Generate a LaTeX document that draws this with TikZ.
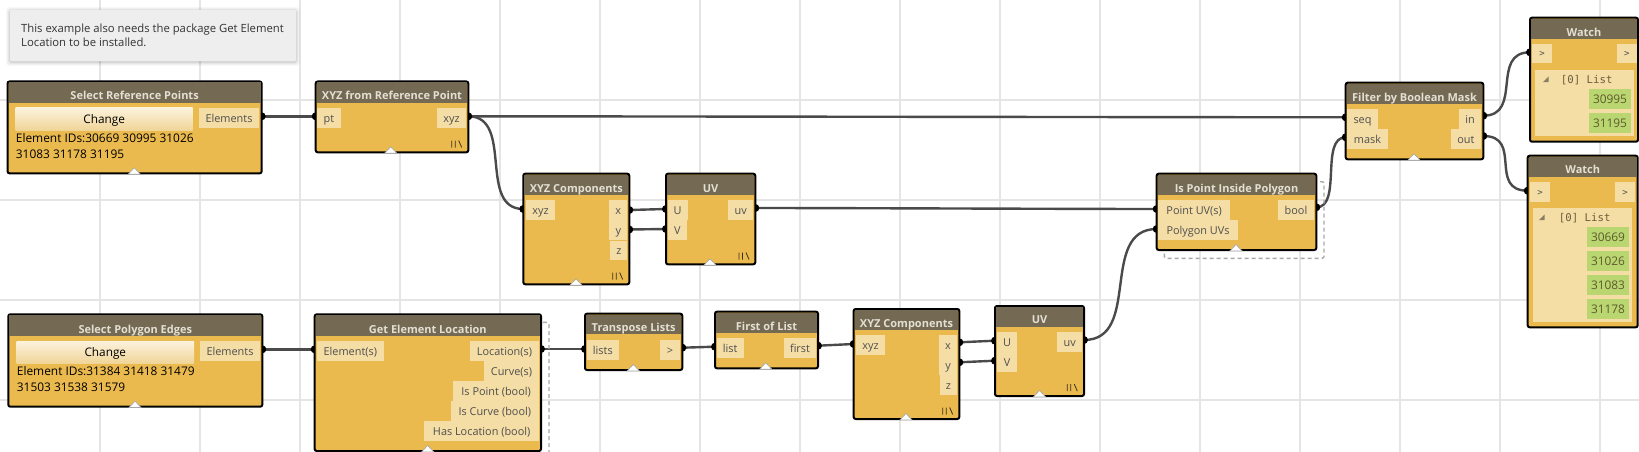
\documentclass[tikz,border=0pt]{standalone}
\usepackage{fontspec}
\setmainfont{Open Sans}
\newfontfamily\monof{DejaVu Sans Mono}
\pgfdeclarelayer{gridlayer}
\pgfdeclarelayer{wirelayer}
\pgfsetlayers{gridlayer,wirelayer,main}
\definecolor{gridc}{HTML}{E5E5E5}
\definecolor{hdrc}{HTML}{746A54}
\definecolor{bodyc}{HTML}{EBBA4F}
\definecolor{labc}{HTML}{F5DEA6}
\definecolor{lbltxt}{HTML}{4F4F4F}
\definecolor{titletxt}{HTML}{E3DFD3}
\definecolor{wirec}{HTML}{4A4A4A}
\definecolor{notec}{HTML}{EEEEEE}
\definecolor{btntop}{HTML}{FCF2DD}
\definecolor{btnbot}{HTML}{F0D598}
\definecolor{greenc}{HTML}{B9D671}
\definecolor{greentxt}{HTML}{5F5A2C}
\definecolor{listtxt}{HTML}{6B5D3D}
\definecolor{dashc}{HTML}{A8A8A8}
\definecolor{lacec}{HTML}{3A3020}
\definecolor{notetxt}{HTML}{333333}
\tikzset{
  dynbody/.style={rectangle, draw=black, line width=2pt, fill=bodyc, rounded corners=2pt, inner sep=0pt, outer sep=0pt},
  dyntitle/.style={text=titletxt, font=\fontsize{11}{13}\selectfont\bfseries, inner sep=0pt},
  lbl/.style={text=lbltxt, font=\fontsize{10.9}{13}\selectfont, inner sep=0pt, anchor=base},
  gtxt/.style={text=greentxt, font=\fontsize{11.9}{13}\selectfont, inner sep=0pt, anchor=base},
  arrtxt/.style={text=lbltxt, font=\monof\fontsize{9}{11}\selectfont, inner sep=0pt, anchor=base},
  idtxt/.style={text=black, font=\fontsize{11.9}{14}\selectfont, inner sep=0pt, anchor=base west},
  btntxt/.style={text=black, font=\fontsize{11.8}{14}\selectfont, inner sep=0pt, anchor=base},
  notetext/.style={text=notetxt, font=\fontsize{11.3}{14}\selectfont, inner sep=0pt, anchor=base west},
  listlbl/.style={text=listtxt, font=\monof\fontsize{10.7}{13}\selectfont, inner sep=0pt, anchor=base west},
  pdot/.style={circle, fill=black, inner sep=0pt, minimum size=8pt},
  wire/.style={draw=wirec, line width=2.4pt},
  gridline/.style={draw=gridc, line width=1.5pt},
  dashframe/.style={draw=dashc, line width=1.4pt, dash pattern=on 4pt off 3pt, rounded corners=2pt},
}
\newcommand{\dynbox}[7]{%
  \node[dynbody, anchor=north west, minimum width={#4-#2}, minimum height={#5-#3}] (#1) at (#2,#3) {};
  \fill[hdrc] ({#2+1},{#3+1}) rectangle ({#4-1},#6);
  \node[dyntitle, anchor=base] (#1-title) at ({(#2+#4)/2},{#6-2.8}) {#7};
}
\newcommand{\lbox}[6]{%
  \fill[labc] (#2,#3) rectangle (#4,#5);
  \node[lbl] (#1) at ({(#2+#4)/2},{(#3+#5)/2+4.3}) {#6};
}
\newcommand{\abox}[5]{%
  \fill[labc] (#2,#3) rectangle (#4,#5);
  \node[arrtxt] (#1) at ({(#2+#4)/2},{(#3+#5)/2+3.2}) {>};
}
\newcommand{\gval}[6]{%
  \fill[greenc] (#2,#3) rectangle (#4,#5);
  \node[gtxt] (#1) at ({(#2+#4)/2},{(#3+#5)/2+4.3}) {#6};
}
\newcommand{\lacing}[2]{%
  \draw[lacec, line width=0.8pt] ({#1-5},{#2-3.5}) -- ({#1-5},{#2+3.5}) ({#1-1.5},{#2-3.5}) -- ({#1-1.5},{#2+3.5}) ({#1+2},{#2-3.5}) -- ({#1+5},{#2+3.5});
}
\newcommand{\ptri}[2]{%
  \filldraw[fill=white, draw=black!35, line width=0.6pt] ({#1-6},{#2+0.8}) -- (#1,{#2-5.5}) -- ({#1+6},{#2+0.8}) -- cycle;
}
\newcommand{\listmark}[2]{%
  \fill[listtxt!80] ({#1-2.8},{#2+2.8}) -- ({#1+2.8},{#2+2.8}) -- ({#1+2.8},{#2-2.8}) -- cycle;
}
\begin{document}
\begin{tikzpicture}[x=1pt,y=-1pt]
\useasboundingbox (0,0) rectangle (1639,452);
\begin{pgfonlayer}{gridlayer}
  \fill[white] (0,0) rectangle (1639,452);
  \foreach \gx in {100,200,...,1600} \draw[gridline] (\gx,0) -- (\gx,452);
  \foreach \gy in {100,200,300,400} \draw[gridline] (0,\gy) -- (1639,\gy);
\end{pgfonlayer}

% ---- note ----
\foreach \e/\o in {4/0.025,3/0.035,2/0.045,1/0.06}
  \fill[black, opacity=\o, rounded corners=3pt] ({10-\e},{10-\e+1}) rectangle ({296+\e},{61+\e+1});
\fill[notec, rounded corners=1pt] (10,10) rectangle (296,61);
\node[notetext] (note1) at (21,32.3) {This example also needs the package Get Element};
\node[notetext] (note2) at (21,46.3) {Location to be installed.};

% ---- port dots (drawn under the node bodies) ----
\node[pdot] (srp-o) at (261.7,116.3) {};
\node[pdot] (xrp-i) at (315.7,116.3) {};
\node[pdot] (xrp-o) at (468.3,116.3) {};
\node[pdot] (spe-o) at (262.3,349.3) {};
\node[pdot] (gel-i) at (314.7,349.3) {};
\node[pdot] (gel-o) at (541,349) {};
\node[pdot] (xc1-i) at (523.3,209) {};
\node[pdot] (xc1-x) at (629.3,210) {};
\node[pdot] (xc1-y) at (629.3,229.5) {};
\node[pdot] (uv1-u) at (666,209) {};
\node[pdot] (uv1-v) at (666,229) {};
\node[pdot] (uv1-o) at (755.3,208) {};
\node[pdot] (tl-i) at (585,349) {};
\node[pdot] (tl-o) at (682.3,347.7) {};
\node[pdot] (fl-i) at (715,346.7) {};
\node[pdot] (fl-o) at (818,345.7) {};
\node[pdot] (xc2-i) at (853.7,344) {};
\node[pdot] (xc2-x) at (959.3,342.3) {};
\node[pdot] (xc2-y) at (959.3,362.3) {};
\node[pdot] (uv2-u) at (995,340.7) {};
\node[pdot] (uv2-v) at (995,360.7) {};
\node[pdot] (uv2-o) at (1084,340) {};
\node[pdot] (ipip-p) at (1156.7,209) {};
\node[pdot] (ipip-g) at (1156.7,229) {};
\node[pdot] (ipip-o) at (1316.3,207.3) {};
\node[pdot] (fbm-s) at (1345.7,117.3) {};
\node[pdot] (fbm-m) at (1345.7,137.3) {};
\node[pdot] (fbm-in) at (1483.3,115.7) {};
\node[pdot] (fbm-out) at (1483.3,136) {};
\node[pdot] (w1-i) at (1530,52.3) {};
\node[pdot] (w2-i) at (1527.7,190.7) {};

% ---- dashed preview frames ----
\draw[dashframe] (322.7,322.3) rectangle (549,459);
\draw[dashframe] (1164.3,181.7) rectangle (1324,258.3);

% ---- Select Reference Points ----
\dynbox{srp}{7.5}{81.5}{261.7}{173.3}{102.7}{Select Reference Points}
\shade[top color=btntop, bottom color=btnbot] (15.7,107.7) rectangle (192.7,130);
\node[btntxt] (srp-chg) at (104.2,123.6) {Change};
\lbox{srp-el}{199}{107.7}{259}{127.7}{Elements}
\node[idtxt] (srp-id1) at (15.7,142.7) {Element IDs:30669 30995 31026};
\node[idtxt] (srp-id2) at (15.7,158.7) {31083 31178 31195};
\ptri{134.3}{173.3}

% ---- XYZ from Reference Point ----
\dynbox{xrp}{315.7}{81.5}{468.3}{152.3}{102.7}{XYZ from Reference Point}
\lbox{xrp-pt}{317.3}{107.7}{340.7}{127.7}{pt}
\lbox{xrp-xyz}{437}{107.7}{466}{127.7}{xyz}
\lacing{456.7}{144}
\ptri{390.7}{152.3}

% ---- Select Polygon Edges ----
\dynbox{spe}{8.3}{314.3}{262.3}{406.7}{336}{Select Polygon Edges}
\shade[top color=btntop, bottom color=btnbot] (16.7,341) rectangle (194,363.3);
\node[btntxt] (spe-chg) at (105.3,356.9) {Change};
\lbox{spe-el}{200}{341}{260}{361}{Elements}
\node[idtxt] (spe-id1) at (16.7,375.7) {Element IDs:31384 31418 31479};
\node[idtxt] (spe-id2) at (16.7,391.7) {31503 31538 31579};
\ptri{135}{406.7}

% ---- Get Element Location ----
\dynbox{gel}{314.7}{314.3}{541}{451}{336}{Get Element Location}
\lbox{gel-in}{316.7}{341}{384}{361}{Element(s)}
\lbox{gel-o1}{470}{341}{539}{361}{Location(s)}
\lbox{gel-o2}{484}{361}{539}{381}{Curve(s)}
\lbox{gel-o3}{453.3}{381}{539}{401}{Is Point (bool)}
\lbox{gel-o4}{450.7}{401}{539}{421}{Is Curve (bool)}
\lbox{gel-o5}{424.3}{421}{539}{441}{Has Location (bool)}
\ptri{427.7}{451}

% ---- XYZ Components (top) ----
\dynbox{xc1}{523.3}{173.7}{629.3}{284.3}{195}{XYZ Components}
\lbox{xc1-xyz}{526}{200}{555}{220}{xyz}
\lbox{xc1-lx}{609.3}{200}{627.3}{220}{x}
\lbox{xc1-ly}{609.3}{220}{627.3}{240}{y}
\lbox{xc1-lz}{610.3}{240.7}{627.3}{260}{z}
\lacing{617.7}{276}
\ptri{576}{284.3}

% ---- UV (top) ----
\dynbox{uv1}{666}{173.7}{755.3}{264.3}{195}{UV}
\lbox{uv1-lu}{667.7}{200}{687.7}{220}{U}
\lbox{uv1-lv}{667.7}{220}{687}{240}{V}
\lbox{uv1-luv}{728}{200}{753.3}{220}{uv}
\lacing{744}{256}
\ptri{710}{264.3}

% ---- Transpose Lists ----
\dynbox{tl}{585}{313.7}{682.3}{370}{334.3}{Transpose Lists}
\lbox{tl-li}{586.7}{340}{619}{360}{lists}
\lbox{tl-lo}{660}{340}{680}{360}{>}
\ptri{633.3}{370}

% ---- First of List ----
\dynbox{fl}{715}{311.7}{818}{368.3}{333.3}{First of List}
\lbox{fl-li}{716.7}{338.3}{743.7}{357.7}{list}
\lbox{fl-lo}{784}{338.3}{816}{357.7}{first}
\ptri{765.7}{368.3}

% ---- XYZ Components (bottom) ----
\dynbox{xc2}{853.7}{309}{959.3}{419}{330}{XYZ Components}
\lbox{xc2-xyz}{856}{335.3}{885}{355.3}{xyz}
\lbox{xc2-lx}{939}{335.3}{957}{355.3}{x}
\lbox{xc2-ly}{939}{355.3}{957}{375.3}{y}
\lbox{xc2-lz}{940}{375.3}{957}{395.3}{z}
\lacing{947.7}{411}
\ptri{906}{419}

% ---- UV (bottom) ----
\dynbox{uv2}{995}{306}{1084}{396}{326.7}{UV}
\lbox{uv2-lu}{997.3}{332.3}{1016.7}{351.7}{U}
\lbox{uv2-lv}{997.3}{351.7}{1016.7}{371.7}{V}
\lbox{uv2-luv}{1057}{332.3}{1082.3}{351.7}{uv}
\lacing{1072.3}{387.7}
\ptri{1039.5}{396}

% ---- Is Point Inside Polygon ----
\dynbox{ipip}{1156.7}{173.7}{1316.3}{250}{195}{Is Point Inside Polygon}
\lbox{ipip-lp}{1158.3}{200}{1230}{220}{Point UV(s)}
\lbox{ipip-lg}{1158.3}{220}{1237.7}{240}{Polygon UVs}
\lbox{ipip-lb}{1278}{200}{1314}{220}{bool}
\ptri{1236}{250}

% ---- Filter by Boolean Mask ----
\dynbox{fbm}{1345.7}{82.7}{1483.3}{159.3}{104.3}{Filter by Boolean Mask}
\lbox{fbm-ls}{1347.3}{109.3}{1377.7}{129}{seq}
\lbox{fbm-lm}{1347.3}{129}{1387.7}{148.7}{mask}
\lbox{fbm-li}{1459.3}{109.3}{1481}{129}{in}
\lbox{fbm-lo}{1450.7}{129}{1481}{148.7}{out}
\ptri{1414}{159.3}

% ---- Watch 1 ----
\dynbox{w1}{1530}{17.7}{1638}{141.7}{39}{Watch}
\abox{w1-ai}{1532.3}{44}{1551.7}{63.3}
\abox{w1-ao}{1617}{44}{1636.7}{63.3}
\fill[labc] (1535,70) rectangle (1634,136);
\listmark{1545.7}{79.3}
\node[listlbl] (w1-list) at (1560.7,83.3) {[0] List};
\gval{w1-v1}{1589}{89}{1631}{109}{30995}
\gval{w1-v2}{1589}{113.3}{1631}{133.3}{31195}

% ---- Watch 2 ----
\dynbox{w2}{1527.7}{155.7}{1637.7}{327.3}{176.7}{Watch}
\abox{w2-ai}{1530}{182}{1550}{201.7}
\abox{w2-ao}{1615}{182}{1635}{201.7}
\fill[labc] (1532.7,208) rectangle (1632.3,322);
\listmark{1541.7}{217.3}
\node[listlbl] (w2-list) at (1558.7,221.3) {[0] List};
\gval{w2-v1}{1587}{227.3}{1629}{247}{30669}
\gval{w2-v2}{1587}{251.3}{1629}{271}{31026}
\gval{w2-v3}{1587}{275.3}{1629}{295}{31083}
\gval{w2-v4}{1587}{299.3}{1629}{319}{31178}

% ---- wires ----
\begin{pgfonlayer}{wirelayer}
  \draw[wire] (srp-o.center) .. controls +(27,0) and +(-27,0) .. (xrp-i.center);
  \draw[wire] (xrp-o.center) .. controls +(80,0) and +(-80,0) .. (fbm-s.center);
  \draw[wire] (xrp-o.center) .. controls +(46,0) and +(-46,0) .. (xc1-i.center);
  \draw[wire] (xc1-x.center) .. controls +(18,0) and +(-18,0) .. (uv1-u.center);
  \draw[wire] (xc1-y.center) .. controls +(18,0) and +(-18,0) .. (uv1-v.center);
  \draw[wire] (uv1-o.center) .. controls +(80,0) and +(-80,0) .. (ipip-p.center);
  \draw[wire] (spe-o.center) .. controls +(26,0) and +(-26,0) .. (gel-i.center);
  \draw[wire] (gel-o.center) .. controls +(22,0) and +(-22,0) .. (tl-i.center);
  \draw[wire] (tl-o.center) .. controls +(16,0) and +(-16,0) .. (fl-i.center);
  \draw[wire] (fl-o.center) .. controls +(18,0) and +(-18,0) .. (xc2-i.center);
  \draw[wire] (xc2-x.center) .. controls +(18,0) and +(-18,0) .. (uv2-u.center);
  \draw[wire] (xc2-y.center) .. controls +(18,0) and +(-18,0) .. (uv2-v.center);
  \draw[wire] (uv2-o.center) .. controls +(58,0) and +(-58,0) .. (ipip-g.center);
  \draw[wire] (ipip-o.center) .. controls +(26,0) and +(-26,0) .. (fbm-m.center);
  \draw[wire] (fbm-in.center) .. controls +(40,0) and +(-40,0) .. (w1-i.center);
  \draw[wire] (fbm-out.center) .. controls +(40,0) and +(-40,0) .. (w2-i.center);
\end{pgfonlayer}
\end{tikzpicture}
\end{document}
